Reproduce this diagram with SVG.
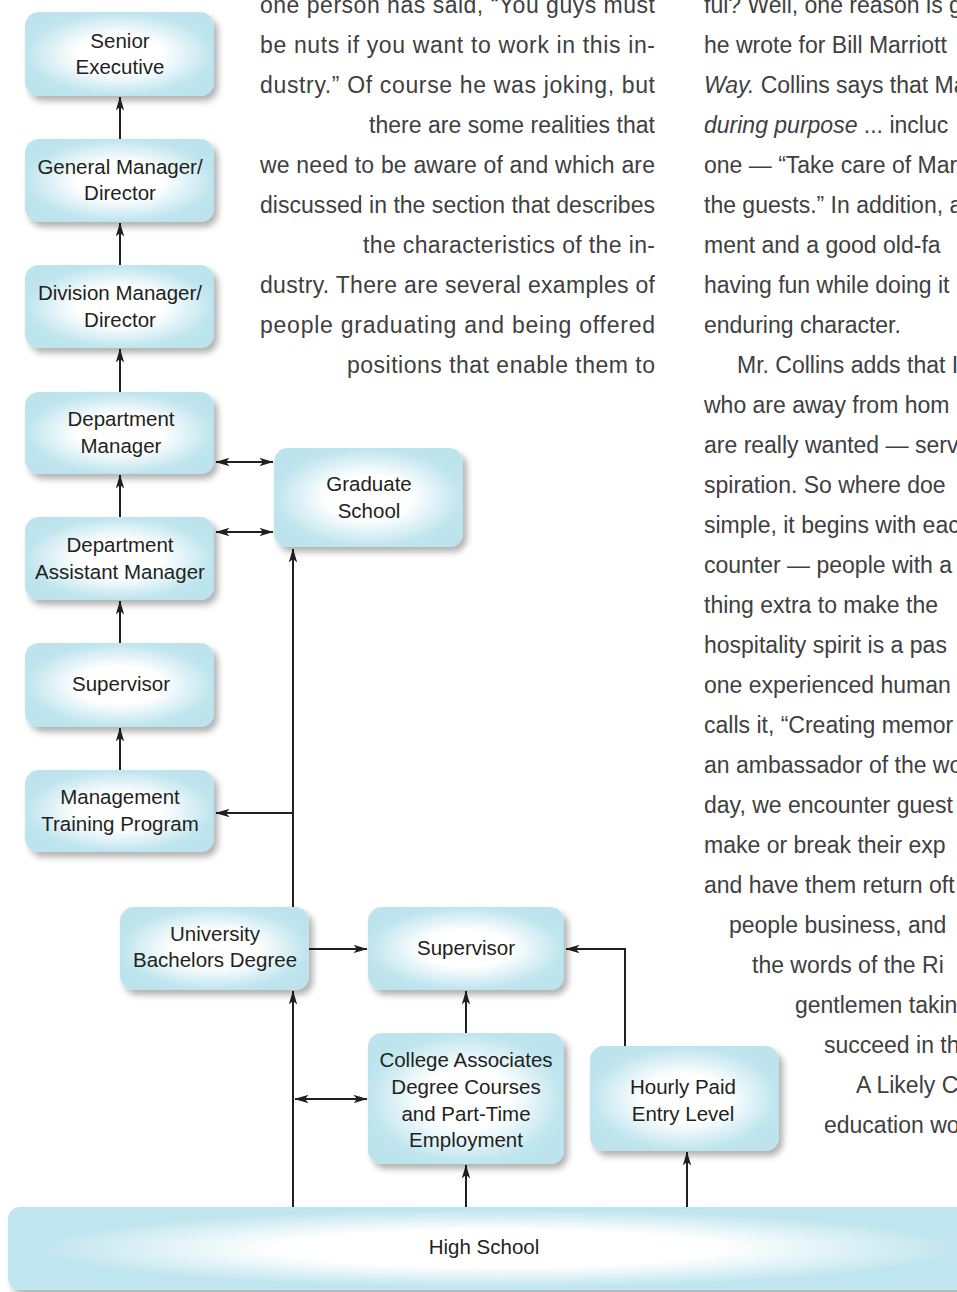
<svg xmlns="http://www.w3.org/2000/svg" width="957" height="1292" viewBox="0 0 957 1292">
<style>
.lbl{font-family:"Liberation Sans",Arial,sans-serif;font-size:20.5px;fill:#231f20;text-anchor:middle}
.body{font-family:"Liberation Sans",Arial,sans-serif;font-size:23px;fill:#404040}
.it{font-style:italic}
.box{fill:url(#g);filter:url(#sh)}
.c{fill:none;stroke:#231f20;stroke-width:2}
.a{marker-end:url(#ah)}
.d{marker-start:url(#ah);marker-end:url(#ah)}
</style>
<defs>
<radialGradient id="g" cx="0.5" cy="0.5" r="0.56">
<stop offset="0" stop-color="#ffffff"/>
<stop offset="0.4" stop-color="#ffffff"/>
<stop offset="0.88" stop-color="#bfe5ee"/>
<stop offset="1" stop-color="#bde4ed"/>
</radialGradient>
<radialGradient id="gh" cx="0.5" cy="0.5" r="0.5">
<stop offset="0" stop-color="#ffffff"/>
<stop offset="0.45" stop-color="#ffffff"/>
<stop offset="0.95" stop-color="#bfe5ee"/>
</radialGradient>
<filter id="sh" x="-10%" y="-10%" width="125%" height="130%">
<feDropShadow dx="4" dy="5" stdDeviation="3" flood-color="#000" flood-opacity="0.3"/>
</filter>
<marker id="ah" viewBox="0 0 14 9" refX="13.5" refY="4.5" markerWidth="14" markerHeight="9" markerUnits="userSpaceOnUse" orient="auto-start-reverse">
<path d="M0,0.3 L14,4.5 L0,8.7 L3.5,4.5 Z" fill="#231f20"/>
</marker>
<clipPath id="rc"><rect x="690" y="0" width="267" height="1292"/></clipPath>
</defs>

<g id="text-left" class="body">
<text x="260" y="13" textLength="395" lengthAdjust="spacing">one person has said, “You guys must</text>
<text x="260" y="53" textLength="395" lengthAdjust="spacing">be nuts if you want to work in this in-</text>
<text x="260" y="93" textLength="395" lengthAdjust="spacing">dustry.” Of course he was joking, but</text>
<text x="369" y="133" textLength="286" lengthAdjust="spacing">there are some realities that</text>
<text x="260" y="173" textLength="395" lengthAdjust="spacing">we need to be aware of and which are</text>
<text x="260" y="213" textLength="395" lengthAdjust="spacing">discussed in the section that describes</text>
<text x="363" y="253" textLength="292" lengthAdjust="spacing">the characteristics of the in-</text>
<text x="260" y="293" textLength="395" lengthAdjust="spacing">dustry. There are several examples of</text>
<text x="260" y="333" textLength="395" lengthAdjust="spacing">people graduating and being offered</text>
<text x="347" y="373" textLength="308" lengthAdjust="spacing">positions that enable them to</text>
</g>

<g id="text-right" class="body" clip-path="url(#rc)">
<text x="704" y="13">ful? Well, one reason is g</text>
<text x="704" y="53">he wrote for Bill Marriott</text>
<text x="704" y="93"><tspan class="it">Way.</tspan> Collins says that Ma</text>
<text x="704" y="133"><tspan class="it">during purpose</tspan> ... incluc</text>
<text x="704" y="173">one — “Take care of Mar</text>
<text x="704" y="213">the guests.” In addition, a</text>
<text x="704" y="253">ment and a good old-fa</text>
<text x="704" y="293">having fun while doing it</text>
<text x="704" y="333">enduring character.</text>
<text x="737" y="373">Mr. Collins adds that I</text>
<text x="704" y="413">who are away from hom</text>
<text x="704" y="453">are really wanted — serve</text>
<text x="704" y="493">spiration. So where doe</text>
<text x="704" y="533">simple, it begins with eac</text>
<text x="704" y="573">counter — people with a</text>
<text x="704" y="613">thing extra to make the</text>
<text x="704" y="653">hospitality spirit is a pas</text>
<text x="704" y="693">one experienced human</text>
<text x="704" y="733">calls it, “Creating memor</text>
<text x="704" y="773">an ambassador of the wo</text>
<text x="704" y="813">day, we encounter guest</text>
<text x="704" y="853">make or break their exp</text>
<text x="704" y="893">and have them return oft</text>
<text x="729" y="933">people business, and</text>
<text x="752" y="973">the words of the Ri</text>
<text x="795" y="1013">gentlemen takin</text>
<text x="824" y="1053">succeed in th</text>
<text x="856" y="1093">A Likely C</text>
<text x="824" y="1133">education wo</text>
</g>

<g id="connectors">
<line class="c a" x1="120" y1="139" x2="120" y2="97"/>
<line class="c a" x1="120" y1="265" x2="120" y2="223"/>
<line class="c a" x1="120" y1="392" x2="120" y2="349"/>
<line class="c a" x1="120" y1="517" x2="120" y2="475"/>
<line class="c a" x1="120" y1="643" x2="120" y2="601"/>
<line class="c a" x1="120" y1="770" x2="120" y2="728"/>
<line class="c d" x1="216" y1="462" x2="273" y2="462"/>
<line class="c d" x1="216" y1="532" x2="273" y2="532"/>
<line class="c a" x1="293" y1="907" x2="293" y2="549"/>
<line class="c a" x1="293" y1="813" x2="216" y2="813"/>
<line class="c a" x1="293" y1="1207" x2="293" y2="991"/>
<line class="c a" x1="309" y1="949" x2="367" y2="949"/>
<line class="c a" x1="466" y1="1033" x2="466" y2="991"/>
<polyline class="c a" points="625,1046 625,949 566,949"/>
<line class="c d" x1="295" y1="1099" x2="367" y2="1099"/>
<line class="c a" x1="466" y1="1207" x2="466" y2="1165"/>
<line class="c a" x1="687" y1="1207" x2="687" y2="1152"/>
</g>

<g id="senior-executive">
<rect class="box" x="25" y="12" width="189" height="84" rx="14"/>
<text class="lbl" x="120" y="48">Senior</text>
<text class="lbl" x="120" y="74">Executive</text>
</g>
<g id="general-manager">
<rect class="box" x="25" y="139" width="189" height="83" rx="14"/>
<text class="lbl" x="120" y="174">General Manager/</text>
<text class="lbl" x="120" y="200">Director</text>
</g>
<g id="division-manager">
<rect class="box" x="25" y="265" width="189" height="83" rx="14"/>
<text class="lbl" x="120" y="300">Division Manager/</text>
<text class="lbl" x="120" y="327">Director</text>
</g>
<g id="department-manager">
<rect class="box" x="25" y="392" width="189" height="82" rx="14"/>
<text class="lbl" x="121" y="426">Department</text>
<text class="lbl" x="121" y="453">Manager</text>
</g>
<g id="department-assistant-manager">
<rect class="box" x="25" y="517" width="189" height="83" rx="14"/>
<text class="lbl" x="120" y="552">Department</text>
<text class="lbl" x="120" y="579">Assistant Manager</text>
</g>
<g id="supervisor-left">
<rect class="box" x="25" y="643" width="189" height="84" rx="14"/>
<text class="lbl" x="121" y="691">Supervisor</text>
</g>
<g id="management-training">
<rect class="box" x="25" y="770" width="189" height="82" rx="14"/>
<text class="lbl" x="120" y="804">Management</text>
<text class="lbl" x="120" y="831">Training Program</text>
</g>
<g id="graduate-school">
<rect class="box" x="274" y="448" width="189" height="99" rx="14"/>
<text class="lbl" x="369" y="491">Graduate</text>
<text class="lbl" x="369" y="518">School</text>
</g>
<g id="university">
<rect class="box" x="120" y="907" width="189" height="83" rx="14"/>
<text class="lbl" x="215" y="941">University</text>
<text class="lbl" x="215" y="967">Bachelors Degree</text>
</g>
<g id="supervisor-bottom">
<rect class="box" x="368" y="907" width="196" height="83" rx="14"/>
<text class="lbl" x="466" y="955">Supervisor</text>
</g>
<g id="college-associates">
<rect class="box" x="368" y="1033" width="196" height="131" rx="14"/>
<text class="lbl" x="466" y="1067">College Associates</text>
<text class="lbl" x="466" y="1094">Degree Courses</text>
<text class="lbl" x="466" y="1121">and Part-Time</text>
<text class="lbl" x="466" y="1147">Employment</text>
</g>
<g id="hourly-paid">
<rect class="box" x="590" y="1046" width="189" height="105" rx="14"/>
<text class="lbl" x="683" y="1094">Hourly Paid</text>
<text class="lbl" x="683" y="1121">Entry Level</text>
</g>
<g id="high-school">
<rect x="8" y="1207" width="980" height="83" rx="12" fill="url(#gh)" filter="url(#sh)"/>
<text class="lbl" x="484" y="1254">High School</text>
</g>
</svg>
